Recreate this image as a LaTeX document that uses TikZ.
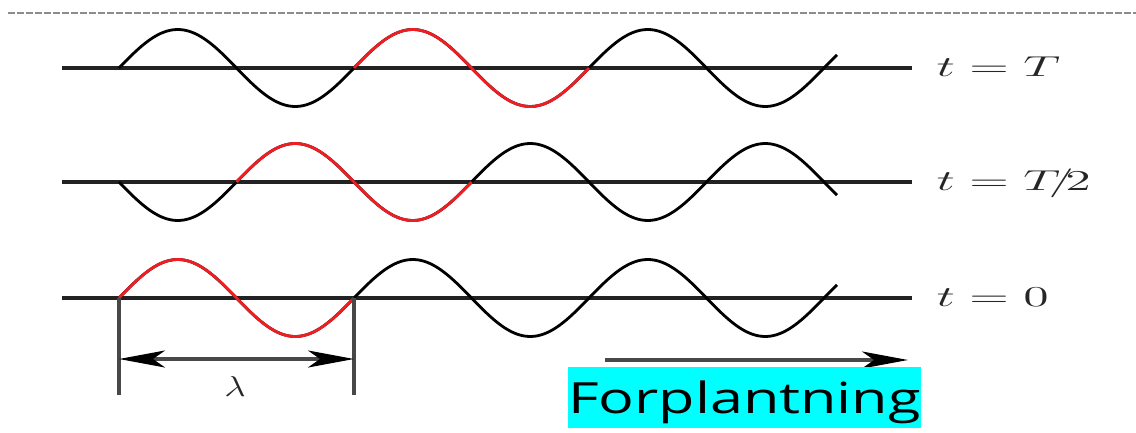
\documentclass[tikz,border=0pt]{standalone}
\usepackage{fontspec}
\usetikzlibrary{arrows.meta,positioning}
\newfontfamily\propfont{Open Sans}
\definecolor{wavered}{RGB}{240,30,34}
\definecolor{axisdark}{RGB}{34,34,34}
\definecolor{dimgray}{RGB}{72,72,72}
\definecolor{dashgray}{RGB}{140,140,140}
\definecolor{propcyan}{RGB}{0,255,255}

\begin{document}
\begin{tikzpicture}[x=0.5pt,y=-0.5pt,
  axisline/.style={axisdark,line width=1.6pt},
  wave/.style={line width=1.4pt,smooth,samples=120},
  dimline/.style={dimgray,line width=1.7pt},
  dimarrow/.style={{Stealth[length=23pt,width=8.5pt,inset=6pt,color=black]}-{Stealth[length=23pt,width=8.5pt,inset=6pt,color=black]},dimgray,line width=1.6pt},
  proparrow/.style={-{Stealth[length=23pt,width=8.5pt,inset=6pt,color=black]},dimgray,line width=1.6pt},
  timelabel/.style={anchor=base west,inner sep=0pt,xscale=1.8,text=black!85,font=\fontsize{14}{16}\selectfont},
  lamlabel/.style={inner sep=0pt,xscale=1.3,text=black!85,font=\fontsize{15}{17}\selectfont},
  propbox/.style={fill=propcyan,anchor=base,inner sep=0pt,text height=23pt,text depth=7.5pt,minimum width=128pt,xscale=1.38,font=\propfont\fontsize{21.5}{24}\selectfont}]
\useasboundingbox (0,0) rectangle (1136,433);
\draw[dashgray,line width=1pt,dash pattern=on 3.3pt off 1.2pt] (8,13.5) -- (1136,13.5);

% three snapshots of the wave
\foreach \row/\yy/\sg/\ra/\rb/\lab in {1/68/-1/354/589/{t=T}, 2/182/1/236.5/471.5/{t=T\mkern-4mu/\mkern-3mu2}, 3/298/-1/119/354/{t=0}} {
  \draw[axisline] (62,\yy) -- (912,\yy);
  \draw[wave] plot[domain=119:837] (\x,{\yy+\sg*38.5*sin((\x-119)/235*360)});
  \draw[wave,wavered] plot[domain=\ra:\rb,samples=50] (\x,{\yy+\sg*38.5*sin((\x-119)/235*360)});
  \node[timelabel] (lab\row) at (936,{\yy+8.5}) {$\lab$};
}

% wavelength
\coordinate (lamA) at (119,298);
\coordinate (lamB) at (354,298);
\coordinate (lamAd) at (119,395);
\coordinate (lamBd) at (354,395);
\coordinate (lamAm) at (119,359);
\coordinate (lamBm) at (354,359);
\draw[dimline] (lamA) -- (lamAd);
\draw[dimline] (lamB) -- (lamBd);
\draw[dimarrow] (lamAm) -- (lamBm);
\node[lamlabel] (lam) at (235,386) {$\lambda$};

% direction of travel
\coordinate (propS) at (605,360);
\coordinate (propE) at (908,360);
\draw[proparrow] (propS) -- (propE);
\node[propbox] (prop) at (744.5,413) {Forplantning};
\end{tikzpicture}
\end{document}
